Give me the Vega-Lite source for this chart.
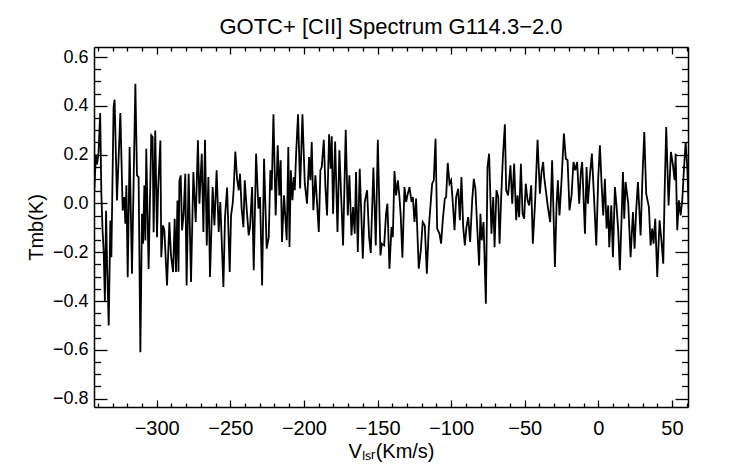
{
  "$schema": "https://vega.github.io/schema/vega-lite/v6.json",
  "width": 594,
  "height": 360,
  "autosize": "none",
  "padding": {"left": 94, "top": 47, "right": 54, "bottom": 57},
  "background": "white",
  "title": {
    "text": "GOTC+ [CII] Spectrum G114.3−2.0",
    "font": "Liberation Sans", "fontSize": 22, "fontWeight": "normal", "color": "black",
    "anchor": "middle", "frame": "group", "baseline": "alphabetic", "offset": -10
  },
  "data": {"values": [
    {"vlsr": -342.6, "tmb": 0.58}, {"vlsr": -342.4, "tmb": 0.05}, {"vlsr": -341.3, "tmb": 0.20}, {"vlsr": -340.5, "tmb": 0.16},
    {"vlsr": -339.5, "tmb": 0.21}, {"vlsr": -338.4, "tmb": 0.37}, {"vlsr": -337.6, "tmb": 0.04}, {"vlsr": -336.8, "tmb": -0.11},
    {"vlsr": -336.0, "tmb": -0.20}, {"vlsr": -335.2, "tmb": -0.40}, {"vlsr": -334.4, "tmb": -0.03}, {"vlsr": -333.7, "tmb": -0.25},
    {"vlsr": -332.6, "tmb": -0.50}, {"vlsr": -331.5, "tmb": -0.07}, {"vlsr": -330.8, "tmb": -0.22}, {"vlsr": -329.3, "tmb": 0.395},
    {"vlsr": -328.6, "tmb": 0.425}, {"vlsr": -327.0, "tmb": 0.012}, {"vlsr": -324.7, "tmb": 0.37}, {"vlsr": -323.1, "tmb": -0.029},
    {"vlsr": -322.0, "tmb": 0.026}, {"vlsr": -321.3, "tmb": -0.083}, {"vlsr": -320.6, "tmb": 0.074}, {"vlsr": -319.7, "tmb": -0.302},
    {"vlsr": -318.4, "tmb": 0.231}, {"vlsr": -316.8, "tmb": -0.288}, {"vlsr": -314.5, "tmb": 0.49}, {"vlsr": -313.4, "tmb": 0.115},
    {"vlsr": -312.3, "tmb": 0.108}, {"vlsr": -311.1, "tmb": -0.61}, {"vlsr": -310.0, "tmb": -0.042}, {"vlsr": -309.3, "tmb": -0.165},
    {"vlsr": -308.4, "tmb": 0.074}, {"vlsr": -307.7, "tmb": -0.152}, {"vlsr": -307.1, "tmb": 0.224}, {"vlsr": -305.5, "tmb": -0.268},
    {"vlsr": -303.7, "tmb": 0.279}, {"vlsr": -302.8, "tmb": 0.272}, {"vlsr": -302.1, "tmb": -0.118}, {"vlsr": -301.0, "tmb": 0.299},
    {"vlsr": -299.8, "tmb": -0.138}, {"vlsr": -299.1, "tmb": 0.053}, {"vlsr": -297.5, "tmb": 0.258}, {"vlsr": -296.9, "tmb": -0.22},
    {"vlsr": -295.7, "tmb": -0.09}, {"vlsr": -294.8, "tmb": -0.11}, {"vlsr": -293.0, "tmb": -0.336}, {"vlsr": -291.4, "tmb": -0.077},
    {"vlsr": -290.3, "tmb": -0.213}, {"vlsr": -288.9, "tmb": -0.281}, {"vlsr": -287.8, "tmb": -0.063}, {"vlsr": -286.9, "tmb": -0.281},
    {"vlsr": -285.9, "tmb": 0.012}, {"vlsr": -285.2, "tmb": -0.28}, {"vlsr": -284.6, "tmb": 0.094}, {"vlsr": -283.7, "tmb": 0.115},
    {"vlsr": -282.8, "tmb": -0.11}, {"vlsr": -281.7, "tmb": -0.042}, {"vlsr": -280.6, "tmb": 0.122}, {"vlsr": -279.7, "tmb": -0.336},
    {"vlsr": -278.3, "tmb": 0.122}, {"vlsr": -276.7, "tmb": -0.322}, {"vlsr": -275.1, "tmb": 0.129}, {"vlsr": -273.5, "tmb": -0.076},
    {"vlsr": -272.0, "tmb": 0.259}, {"vlsr": -271.0, "tmb": -0.001}, {"vlsr": -269.4, "tmb": 0.204}, {"vlsr": -268.3, "tmb": -0.117},
    {"vlsr": -267.2, "tmb": 0.261}, {"vlsr": -266.0, "tmb": -0.172}, {"vlsr": -264.9, "tmb": 0.108}, {"vlsr": -263.8, "tmb": -0.301},
    {"vlsr": -262.0, "tmb": 0.067}, {"vlsr": -260.8, "tmb": -0.09}, {"vlsr": -259.3, "tmb": 0.136}, {"vlsr": -257.9, "tmb": -0.117},
    {"vlsr": -256.8, "tmb": 0.006}, {"vlsr": -254.7, "tmb": -0.342}, {"vlsr": -253.6, "tmb": -0.056}, {"vlsr": -252.2, "tmb": 0.065},
    {"vlsr": -250.4, "tmb": -0.281}, {"vlsr": -249.5, "tmb": -0.049}, {"vlsr": -248.4, "tmb": -0.001}, {"vlsr": -247.7, "tmb": 0.061},
    {"vlsr": -246.6, "tmb": 0.213}, {"vlsr": -245.4, "tmb": 0.101}, {"vlsr": -244.3, "tmb": 0.054}, {"vlsr": -243.4, "tmb": 0.122},
    {"vlsr": -242.3, "tmb": -0.021}, {"vlsr": -241.1, "tmb": -0.097}, {"vlsr": -240.2, "tmb": 0.095}, {"vlsr": -238.9, "tmb": -0.021},
    {"vlsr": -237.5, "tmb": -0.131}, {"vlsr": -236.6, "tmb": -0.097}, {"vlsr": -235.2, "tmb": 0.067}, {"vlsr": -234.1, "tmb": -0.274},
    {"vlsr": -232.5, "tmb": 0.204}, {"vlsr": -230.9, "tmb": -0.021}, {"vlsr": -229.8, "tmb": 0.026}, {"vlsr": -228.4, "tmb": -0.336},
    {"vlsr": -227.1, "tmb": 0.183}, {"vlsr": -225.3, "tmb": -0.185}, {"vlsr": -223.9, "tmb": -0.138}, {"vlsr": -222.8, "tmb": 0.136},
    {"vlsr": -221.9, "tmb": 0.054}, {"vlsr": -220.7, "tmb": 0.365}, {"vlsr": -219.2, "tmb": -0.049}, {"vlsr": -217.8, "tmb": 0.238},
    {"vlsr": -216.7, "tmb": 0.033}, {"vlsr": -215.8, "tmb": 0.177}, {"vlsr": -214.9, "tmb": -0.158}, {"vlsr": -213.5, "tmb": 0.033},
    {"vlsr": -211.7, "tmb": -0.151}, {"vlsr": -210.6, "tmb": 0.231}, {"vlsr": -209.8, "tmb": -0.178}, {"vlsr": -208.9, "tmb": 0.136},
    {"vlsr": -207.8, "tmb": 0.013}, {"vlsr": -206.9, "tmb": 0.108}, {"vlsr": -206.2, "tmb": 0.054}, {"vlsr": -205.3, "tmb": 0.204},
    {"vlsr": -204.0, "tmb": 0.365}, {"vlsr": -202.6, "tmb": 0.061}, {"vlsr": -201.0, "tmb": 0.365}, {"vlsr": -199.4, "tmb": 0.081},
    {"vlsr": -197.9, "tmb": -0.001}, {"vlsr": -196.5, "tmb": 0.19}, {"vlsr": -195.6, "tmb": 0.095}, {"vlsr": -194.7, "tmb": 0.252},
    {"vlsr": -193.6, "tmb": -0.028}, {"vlsr": -192.2, "tmb": 0.115}, {"vlsr": -189.9, "tmb": -0.117}, {"vlsr": -188.8, "tmb": 0.136},
    {"vlsr": -187.9, "tmb": 0.149}, {"vlsr": -186.5, "tmb": 0.261}, {"vlsr": -185.4, "tmb": 0.067}, {"vlsr": -184.3, "tmb": -0.049},
    {"vlsr": -182.9, "tmb": 0.283}, {"vlsr": -181.8, "tmb": 0.142}, {"vlsr": -181.1, "tmb": 0.275}, {"vlsr": -180.2, "tmb": -0.042},
    {"vlsr": -178.8, "tmb": 0.254}, {"vlsr": -177.2, "tmb": -0.117}, {"vlsr": -175.9, "tmb": 0.218}, {"vlsr": -174.5, "tmb": -0.001},
    {"vlsr": -173.4, "tmb": -0.172}, {"vlsr": -171.6, "tmb": 0.302}, {"vlsr": -170.2, "tmb": -0.049}, {"vlsr": -169.1, "tmb": 0.115},
    {"vlsr": -167.7, "tmb": -0.131}, {"vlsr": -166.6, "tmb": -0.015}, {"vlsr": -165.5, "tmb": -0.124}, {"vlsr": -164.6, "tmb": 0.129},
    {"vlsr": -163.4, "tmb": -0.199}, {"vlsr": -162.1, "tmb": 0.142}, {"vlsr": -160.0, "tmb": -0.226}, {"vlsr": -158.7, "tmb": 0.006},
    {"vlsr": -157.1, "tmb": 0.054}, {"vlsr": -155.7, "tmb": -0.138}, {"vlsr": -154.6, "tmb": -0.203}, {"vlsr": -152.8, "tmb": 0.147},
    {"vlsr": -151.2, "tmb": -0.172}, {"vlsr": -149.8, "tmb": 0.261}, {"vlsr": -148.0, "tmb": -0.213}, {"vlsr": -147.1, "tmb": -0.165},
    {"vlsr": -145.5, "tmb": -0.172}, {"vlsr": -144.2, "tmb": -0.042}, {"vlsr": -143.3, "tmb": -0.001}, {"vlsr": -141.9, "tmb": -0.267},
    {"vlsr": -140.5, "tmb": -0.097}, {"vlsr": -139.6, "tmb": -0.138}, {"vlsr": -138.5, "tmb": 0.133}, {"vlsr": -137.4, "tmb": 0.033},
    {"vlsr": -136.2, "tmb": 0.095}, {"vlsr": -135.1, "tmb": 0.026}, {"vlsr": -134.2, "tmb": -0.056}, {"vlsr": -133.1, "tmb": -0.222},
    {"vlsr": -131.7, "tmb": 0.067}, {"vlsr": -130.6, "tmb": 0.006}, {"vlsr": -129.7, "tmb": 0.033}, {"vlsr": -128.3, "tmb": 0.067},
    {"vlsr": -126.9, "tmb": 0.006}, {"vlsr": -126.0, "tmb": 0.026}, {"vlsr": -124.9, "tmb": -0.076}, {"vlsr": -123.8, "tmb": 0.02},
    {"vlsr": -122.0, "tmb": -0.267}, {"vlsr": -120.6, "tmb": -0.192}, {"vlsr": -119.3, "tmb": -0.076}, {"vlsr": -117.9, "tmb": -0.09},
    {"vlsr": -116.5, "tmb": -0.288}, {"vlsr": -115.2, "tmb": -0.103}, {"vlsr": -112.9, "tmb": 0.081}, {"vlsr": -111.8, "tmb": 0.095},
    {"vlsr": -110.6, "tmb": 0.265}, {"vlsr": -109.5, "tmb": -0.103}, {"vlsr": -107.9, "tmb": -0.124}, {"vlsr": -106.8, "tmb": -0.165},
    {"vlsr": -105.7, "tmb": -0.069}, {"vlsr": -104.3, "tmb": 0.02}, {"vlsr": -103.4, "tmb": 0.026}, {"vlsr": -102.3, "tmb": 0.166},
    {"vlsr": -101.1, "tmb": 0.081}, {"vlsr": -100.0, "tmb": 0.095}, {"vlsr": -98.9, "tmb": 0.006}, {"vlsr": -97.7, "tmb": -0.11},
    {"vlsr": -96.6, "tmb": 0.026}, {"vlsr": -95.2, "tmb": 0.06}, {"vlsr": -94.1, "tmb": -0.069}, {"vlsr": -93.0, "tmb": 0.108},
    {"vlsr": -91.8, "tmb": -0.097}, {"vlsr": -90.7, "tmb": -0.172}, {"vlsr": -89.6, "tmb": -0.097}, {"vlsr": -88.4, "tmb": -0.056},
    {"vlsr": -87.1, "tmb": -0.158}, {"vlsr": -85.7, "tmb": 0.013}, {"vlsr": -84.6, "tmb": 0.101}, {"vlsr": -83.5, "tmb": 0.06},
    {"vlsr": -82.3, "tmb": -0.097}, {"vlsr": -81.0, "tmb": -0.254}, {"vlsr": -80.1, "tmb": -0.042}, {"vlsr": -79.2, "tmb": -0.151},
    {"vlsr": -78.0, "tmb": -0.076}, {"vlsr": -76.4, "tmb": -0.411}, {"vlsr": -75.3, "tmb": 0.149}, {"vlsr": -74.2, "tmb": 0.204},
    {"vlsr": -72.6, "tmb": -0.124}, {"vlsr": -71.4, "tmb": 0.026}, {"vlsr": -70.5, "tmb": -0.179}, {"vlsr": -69.2, "tmb": 0.054},
    {"vlsr": -68.0, "tmb": 0.026}, {"vlsr": -67.1, "tmb": -0.165}, {"vlsr": -66.0, "tmb": 0.026}, {"vlsr": -64.9, "tmb": 0.183},
    {"vlsr": -63.5, "tmb": 0.324}, {"vlsr": -62.6, "tmb": 0.054}, {"vlsr": -61.3, "tmb": 0.033}, {"vlsr": -59.7, "tmb": 0.156},
    {"vlsr": -58.5, "tmb": -0.001}, {"vlsr": -57.2, "tmb": 0.163}, {"vlsr": -55.8, "tmb": -0.069}, {"vlsr": -54.9, "tmb": 0.033},
    {"vlsr": -53.8, "tmb": -0.056}, {"vlsr": -52.6, "tmb": 0.163}, {"vlsr": -51.5, "tmb": -0.042}, {"vlsr": -50.4, "tmb": -0.063},
    {"vlsr": -49.3, "tmb": 0.081}, {"vlsr": -48.1, "tmb": 0.013}, {"vlsr": -47.0, "tmb": -0.008}, {"vlsr": -45.6, "tmb": 0.074},
    {"vlsr": -44.5, "tmb": -0.165}, {"vlsr": -42.9, "tmb": 0.013}, {"vlsr": -41.3, "tmb": 0.261}, {"vlsr": -39.7, "tmb": 0.04},
    {"vlsr": -38.6, "tmb": 0.129}, {"vlsr": -37.5, "tmb": 0.17}, {"vlsr": -36.8, "tmb": 0.108}, {"vlsr": -35.4, "tmb": 0.04},
    {"vlsr": -34.3, "tmb": -0.015}, {"vlsr": -32.7, "tmb": -0.076}, {"vlsr": -31.4, "tmb": 0.177}, {"vlsr": -29.5, "tmb": -0.26},
    {"vlsr": -28.4, "tmb": -0.008}, {"vlsr": -27.5, "tmb": 0.095}, {"vlsr": -26.4, "tmb": -0.049}, {"vlsr": -25.0, "tmb": 0.095},
    {"vlsr": -23.4, "tmb": 0.286}, {"vlsr": -22.1, "tmb": 0.183}, {"vlsr": -20.9, "tmb": 0.177}, {"vlsr": -19.6, "tmb": -0.028},
    {"vlsr": -18.2, "tmb": 0.033}, {"vlsr": -16.9, "tmb": 0.17}, {"vlsr": -15.7, "tmb": 0.136}, {"vlsr": -14.4, "tmb": 0.17},
    {"vlsr": -13.0, "tmb": -0.001}, {"vlsr": -11.9, "tmb": 0.129}, {"vlsr": -11.0, "tmb": 0.17}, {"vlsr": -9.1, "tmb": -0.124},
    {"vlsr": -8.0, "tmb": 0.149}, {"vlsr": -7.1, "tmb": -0.001}, {"vlsr": -6.0, "tmb": 0.095}, {"vlsr": -4.4, "tmb": 0.204},
    {"vlsr": -3.0, "tmb": 0.033}, {"vlsr": -1.4, "tmb": -0.172}, {"vlsr": -0.1, "tmb": 0.101}, {"vlsr": 1.05, "tmb": 0.238},
    {"vlsr": 2.2, "tmb": 0.081}, {"vlsr": 3.3, "tmb": -0.049}, {"vlsr": 4.45, "tmb": 0.101}, {"vlsr": 5.6, "tmb": -0.103},
    {"vlsr": 6.7, "tmb": -0.008}, {"vlsr": 7.4, "tmb": -0.179}, {"vlsr": 8.8, "tmb": -0.008}, {"vlsr": 9.9, "tmb": -0.22},
    {"vlsr": 11.25, "tmb": 0.067}, {"vlsr": 12.4, "tmb": -0.015}, {"vlsr": 13.5, "tmb": -0.11}, {"vlsr": 14.6, "tmb": -0.274},
    {"vlsr": 15.8, "tmb": -0.056}, {"vlsr": 16.7, "tmb": 0.129}, {"vlsr": 17.6, "tmb": -0.063}, {"vlsr": 18.5, "tmb": 0.088},
    {"vlsr": 20.3, "tmb": -0.001}, {"vlsr": 21.9, "tmb": -0.22}, {"vlsr": 23.5, "tmb": -0.035}, {"vlsr": 24.6, "tmb": -0.185},
    {"vlsr": 25.7, "tmb": -0.028}, {"vlsr": 26.9, "tmb": 0.088}, {"vlsr": 28.7, "tmb": -0.131}, {"vlsr": 30.0, "tmb": 0.115},
    {"vlsr": 31.2, "tmb": 0.293}, {"vlsr": 32.5, "tmb": 0.04}, {"vlsr": 34.35, "tmb": -0.015}, {"vlsr": 35.5, "tmb": -0.172},
    {"vlsr": 36.6, "tmb": -0.103}, {"vlsr": 37.5, "tmb": -0.165}, {"vlsr": 38.65, "tmb": -0.063}, {"vlsr": 40.0, "tmb": -0.301},
    {"vlsr": 41.6, "tmb": -0.069}, {"vlsr": 42.95, "tmb": -0.158}, {"vlsr": 44.1, "tmb": -0.247}, {"vlsr": 45.0, "tmb": 0.04},
    {"vlsr": 46.1, "tmb": 0.313}, {"vlsr": 47.7, "tmb": -0.008}, {"vlsr": 49.3, "tmb": 0.211}, {"vlsr": 50.7, "tmb": 0.156},
    {"vlsr": 51.8, "tmb": 0.095}, {"vlsr": 52.5, "tmb": 0.204}, {"vlsr": 53.6, "tmb": -0.11}, {"vlsr": 54.7, "tmb": 0.013},
    {"vlsr": 55.9, "tmb": -0.049}, {"vlsr": 57.0, "tmb": 0.013}, {"vlsr": 58.1, "tmb": 0.136}, {"vlsr": 59.3, "tmb": 0.252},
    {"vlsr": 60.4, "tmb": 0.149}, {"vlsr": 61.5, "tmb": -0.05}
  ]},
  "layer": [
    {
      "mark": {"type": "line", "color": "black", "strokeWidth": 1.8, "clip": true},
      "encoding": {
        "x": {
          "field": "vlsr", "type": "quantitative",
          "scale": {"domain": [-342.6, 60.9], "nice": false, "zero": false},
          "axis": {
            "orient": "bottom",
            "values": [-340, -330, -320, -310, -300, -290, -280, -270, -260, -250, -240, -230, -220, -210, -200, -190, -180, -170, -160, -150, -140, -130, -120, -110, -100, -90, -80, -70, -60, -50, -40, -30, -20, -10, 0, 10, 20, 30, 40, 50, 60],
            "tickSize": {"condition": {"test": "datum.value % 50 === 0", "value": -7}, "value": -4},
            "format": "d",
            "labelExpr": "datum.value % 50 === 0 ? datum.label : ''",
            "labelFont": "Liberation Sans", "labelFontSize": 20, "labelColor": "black",
            "labelPadding": 18, "labelFlush": false, "labelOverlap": false, "labelBound": false,
            "domainColor": "black", "domainWidth": 1.5, "tickColor": "black", "tickWidth": 1.3,
            "grid": false,
            "title": "Vₗₛᵣ(Km/s)",
            "titleFont": "Liberation Sans", "titleFontSize": 20, "titleFontWeight": "normal", "titleColor": "black",
            "titleY": 50, "titleBaseline": "alphabetic"
          }
        },
        "y": {
          "field": "tmb", "type": "quantitative",
          "scale": {"domain": [-0.834, 0.641], "nice": false, "zero": false},
          "axis": {
            "orient": "left",
            "values": [-0.8, -0.75, -0.7, -0.65, -0.6, -0.55, -0.5, -0.45, -0.4, -0.35, -0.3, -0.25, -0.2, -0.15, -0.1, -0.05, 0, 0.05, 0.1, 0.15, 0.2, 0.25, 0.3, 0.35, 0.4, 0.45, 0.5, 0.55, 0.6],
            "tickSize": {"condition": {"test": "abs(round(datum.value * 100)) % 20 === 0", "value": -13}, "value": -6.5},
            "labelExpr": "abs(round(datum.value * 100)) % 20 === 0 ? format(datum.value, '.1f') : ''",
            "labelFont": "Liberation Sans", "labelFontSize": 18, "labelColor": "black",
            "labelPadding": 19, "labelFlush": false, "labelOverlap": false, "labelBound": false,
            "domainColor": "black", "domainWidth": 1.5, "tickColor": "black", "tickWidth": 1.3,
            "grid": false,
            "title": "Tmb(K)",
            "titleFont": "Liberation Sans", "titleFontSize": 20, "titleFontWeight": "normal", "titleColor": "black",
            "titleX": -58, "titleY": 180, "titleAngle": -90, "titleAlign": "center", "titleBaseline": "middle"
          }
        }
      }
    },
    {
      "mark": {"type": "line", "opacity": 0},
      "encoding": {
        "x": {
          "field": "vlsr", "type": "quantitative",
          "axis": {
            "orient": "top",
            "values": [-340, -330, -320, -310, -300, -290, -280, -270, -260, -250, -240, -230, -220, -210, -200, -190, -180, -170, -160, -150, -140, -130, -120, -110, -100, -90, -80, -70, -60, -50, -40, -30, -20, -10, 0, 10, 20, 30, 40, 50, 60],
            "tickSize": {"condition": {"test": "datum.value % 50 === 0", "value": -7}, "value": -4},
            "labels": false, "title": null, "grid": false,
            "domainColor": "black", "domainWidth": 1.5, "tickColor": "black", "tickWidth": 1.3
          }
        },
        "y": {
          "field": "tmb", "type": "quantitative",
          "axis": {
            "orient": "right",
            "values": [-0.8, -0.75, -0.7, -0.65, -0.6, -0.55, -0.5, -0.45, -0.4, -0.35, -0.3, -0.25, -0.2, -0.15, -0.1, -0.05, 0, 0.05, 0.1, 0.15, 0.2, 0.25, 0.3, 0.35, 0.4, 0.45, 0.5, 0.55, 0.6],
            "tickSize": {"condition": {"test": "abs(round(datum.value * 100)) % 20 === 0", "value": -13}, "value": -6.5},
            "labels": false, "title": null, "grid": false,
            "domainColor": "black", "domainWidth": 1.5, "tickColor": "black", "tickWidth": 1.3
          }
        }
      }
    }
  ],
  "resolve": {"axis": {"x": "independent", "y": "independent"}},
  "config": {"view": {"stroke": null}}
}
